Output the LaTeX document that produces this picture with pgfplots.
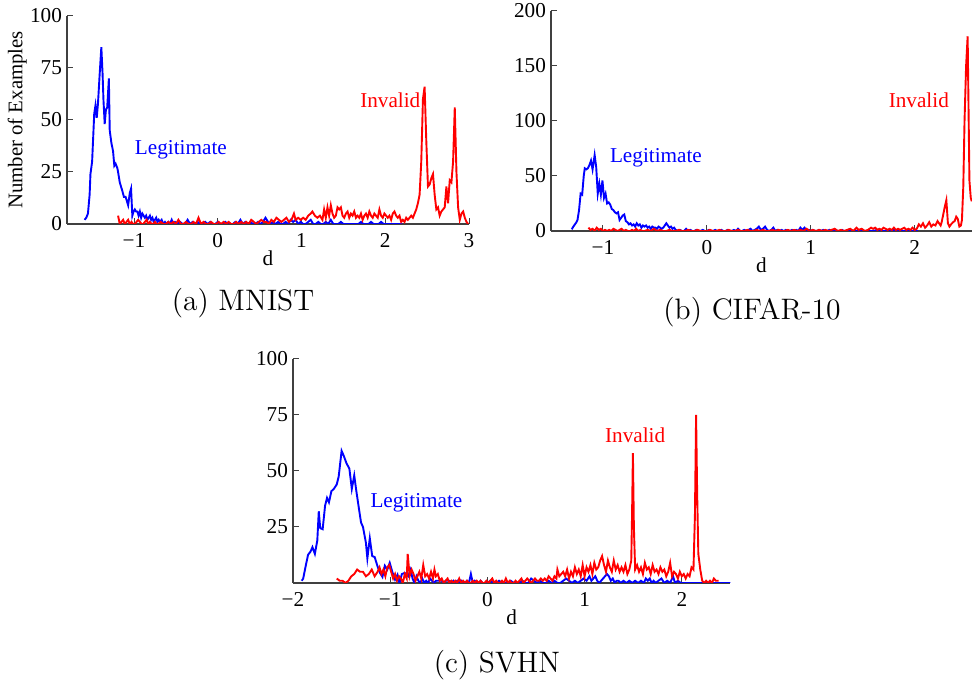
\documentclass[border=0pt]{standalone}
\usepackage{fontspec}
\usepackage{pgfplots}
\pgfplotsset{compat=1.18}
\newfontfamily\plotfont{Liberation Serif}

\pgfplotsset{
  panel/.style={
    scale only axis,
    axis x line*=bottom, axis y line*=left,
    axis line style={-, black!75, line width=0.6pt},
    tick align=inside, major tick length=3pt,
    tick style={black!75, line width=0.5pt},
    ticklabel style={font=\plotfont\fontsize{10.6}{12}\selectfont},
    xticklabel style={yshift=-1.3pt},
    yticklabel style={xshift=1pt},
    xlabel={d},
    every axis x label/.style={at={(axis description cs:0.5,0)}, anchor=center, yshift=-17pt,
      font=\plotfont\fontsize{10.6}{12}\selectfont},
    every axis y label/.style={rotate=90, anchor=center,
      font=\plotfont\fontsize{10.4}{12}\selectfont},
  },
  legit/.style={blue, line width=0.95pt},
  inval/.style={red, line width=0.95pt},
}
\newcommand\lbl{\plotfont\fontsize{10.6}{12}\selectfont}

\begin{document}
\begin{tikzpicture}[x=1pt,y=1pt]
\useasboundingbox (0,0) rectangle (486.5,341.5);

% (a) MNIST
\begin{axis}[panel, at={(33.5pt,229.5pt)}, anchor=south west,
  width=201pt, height=104pt, xmin=-1.8, xmax=3, ymin=0, ymax=100,
  xtick={-1,0,1,2,3}, xticklabels={−1,0,1,2,3},
  ytick={0,25,50,75,100}, yticklabels={0,25,50,75,100},
  ylabel={Number of Examples},
  every axis y label/.append style={at={(axis description cs:-0.124,0.5)}}]
\addplot[legit] coordinates {
(-1.59,2)(-1.57,3)(-1.55,5)(-1.53,14)(-1.52,24)(-1.50,30)(-1.475,53)(-1.46,57)(-1.445,51)
(-1.43,58)(-1.41,72)(-1.39,85)(-1.375,72)(-1.365,60)(-1.35,48)(-1.335,55)(-1.32,56)(-1.30,70)
(-1.29,45)(-1.27,39)(-1.25,35)(-1.235,28)(-1.22,29)(-1.20,27)(-1.19,25)(-1.17,20)(-1.155,18)
(-1.14,16)(-1.12,13)(-1.10,13)(-1.085,11)(-1.07,9)(-1.05,15)(-1.035,17)(-1.02,4)(-1.005,6)
(-0.99,7)(-0.975,6)(-0.96,6)(-0.945,4)(-0.93,6)(-0.915,3)(-0.90,5)(-0.885,4)(-0.87,3)(-0.855,4)
(-0.84,2)(-0.825,3)(-0.81,4)(-0.795,2)(-0.78,3)(-0.765,1)(-0.75,2)(-0.735,3)(-0.72,1)(-0.705,2)
(-0.69,1)(-0.67,2)(-0.65,0)(-0.63,1)(-0.61,0)(-0.59,1)(-0.57,0)(-0.55,2)(-0.53,0)(-0.51,1)
(-0.48,0)(-0.45,1)(-0.42,0)(-0.39,0)(-0.36,2)(-0.33,0)(-0.30,1)(-0.27,0)(-0.24,1)(-0.21,0)
(-0.18,0)(-0.15,1)(-0.12,0)(-0.09,1)(-0.06,0)(-0.03,0)(0.00,1)(0.03,0)(0.06,0)(0.09,1)
(0.12,0)(0.15,0)(0.18,0)(0.21,1)(0.24,0)(0.27,2)(0.30,0)(0.33,1)(0.36,0)(0.39,1)(0.42,0)
(0.45,0)(0.48,1)(0.51,0)(0.54,1)(0.57,3)(0.60,1)(0.63,0)(0.66,1)(0.69,0)(0.72,1)(0.75,0)
(0.78,0)(0.81,1)(0.84,0)(0.87,2)(0.90,1)(0.93,2)(0.96,0)(0.99,1)(1.02,0)(1.05,0)(1.08,1)
(1.11,2)(1.14,0)(1.17,0)(1.20,1)(1.23,0)(1.26,0)(1.29,1)(1.32,0)(1.35,2)(1.38,0)(1.41,0)
(1.44,0)(1.47,1)(1.50,0)(1.53,0)(1.56,0)(1.59,0)(1.62,0)(1.65,0)(1.68,0)(1.71,1)(1.74,0)
(1.77,0)(1.80,0)(1.83,1)(1.86,0)(1.89,0)(1.92,0)(1.95,1)(1.98,0)(2.01,0)(2.04,0)(2.07,0)
(2.10,0)(2.13,0)(2.16,0)(2.20,0)};
\addplot[inval] coordinates {
(-1.19,4)(-1.17,0)(-1.15,1)(-1.13,2)(-1.11,0)(-1.09,1)(-1.07,2)(-1.05,0)(-1.03,1)(-1.01,0)
(-0.99,0)(-0.97,1)(-0.95,2)(-0.93,1)(-0.91,0)(-0.89,0)(-0.87,1)(-0.85,2)(-0.83,0)(-0.81,1)
(-0.79,0)(-0.77,0)(-0.75,1)(-0.73,0)(-0.71,0)(-0.68,1)(-0.65,0)(-0.62,0)(-0.59,1)(-0.56,0)
(-0.53,1)(-0.50,0)(-0.47,2)(-0.44,0)(-0.41,0)(-0.38,1)(-0.35,0)(-0.32,0)(-0.29,1)(-0.26,0)
(-0.23,3)(-0.20,0)(-0.17,1)(-0.14,0)(-0.11,0)(-0.08,1)(-0.05,0)(-0.02,0)(0.01,1)(0.04,0)
(0.07,1)(0.10,0)(0.13,1)(0.16,0)(0.19,0)(0.22,1)(0.25,0)(0.28,1)(0.31,0)(0.34,1)(0.37,0)
(0.40,2)(0.43,1)(0.46,0)(0.49,1)(0.52,2)(0.55,1)(0.58,1)(0.61,0)(0.64,2)(0.67,1)(0.70,3)
(0.73,2)(0.76,1)(0.79,2)(0.82,3)(0.85,1)(0.88,2)(0.91,5)(0.93,2)(0.96,3)(0.99,2)(1.02,3)
(1.05,2)(1.08,4)(1.11,5)(1.13,6)(1.16,4)(1.19,3)(1.22,4)(1.25,2)(1.27,7)(1.29,3)(1.31,8)
(1.33,4)(1.35,9)(1.37,5)(1.39,3)(1.41,4)(1.43,8)(1.45,7)(1.47,8)(1.49,4)(1.51,3)(1.53,5)
(1.55,6)(1.57,3)(1.59,5)(1.61,4)(1.63,6)(1.65,3)(1.67,4)(1.69,3)(1.71,5)(1.73,2)(1.75,4)
(1.77,5)(1.79,3)(1.81,6)(1.83,4)(1.85,3)(1.87,5)(1.89,4)(1.91,3)(1.93,7)(1.95,4)(1.97,3)
(1.99,5)(2.01,4)(2.03,3)(2.05,4)(2.07,2)(2.09,5)(2.11,6)(2.13,4)(2.15,3)(2.17,4)(2.19,1)
(2.21,2)(2.23,1)(2.25,3)(2.27,2)(2.29,3)(2.31,4)(2.33,3)(2.35,5)(2.37,7)(2.39,10)(2.41,14)
(2.43,30)(2.45,60)(2.47,66)(2.49,40)(2.51,18)(2.53,19)(2.55,22)(2.57,24)(2.59,14)(2.61,7)
(2.63,8)(2.65,4)(2.67,6)(2.69,7)(2.71,8)(2.73,18)(2.75,10)(2.77,21)(2.79,20)(2.81,30)
(2.83,56)(2.85,25)(2.87,8)(2.89,2)(2.91,5)(2.93,6)(2.95,3)(2.97,1)(2.99,0)};
\node[text=blue, font=\lbl] at (axis cs:-0.44,35.6) {Legitimate};
\node[text=red, font=\lbl] at (axis cs:2.06,59.6) {Invalid};
\end{axis}

% (b) CIFAR-10
\begin{axis}[panel, at={(275.5pt,226pt)}, anchor=south west,
  width=210.4pt, height=110pt, xmin=-1.5, xmax=2.55, ymin=0, ymax=200,
  xtick={-1,0,1,2}, xticklabels={−1,0,1,2},
  ytick={0,50,100,150,200}, yticklabels={0,50,100,150,200}]
\addplot[legit] coordinates {
(-1.30,1.5)(-1.285,4)(-1.27,6)(-1.255,8)(-1.245,10)(-1.23,19)(-1.215,34)(-1.20,33)(-1.185,50)
(-1.175,57)(-1.16,56)(-1.145,57)(-1.13,60)(-1.115,64)(-1.10,56)(-1.08,69)(-1.065,58)(-1.05,34)
(-1.035,43)(-1.02,33)(-1.005,46)(-0.99,30)(-0.975,34)(-0.96,25)(-0.945,26)(-0.93,24)(-0.915,20)
(-0.90,19)(-0.885,17)(-0.87,16)(-0.855,17)(-0.84,10)(-0.825,12)(-0.81,14)(-0.795,15)(-0.78,9)
(-0.765,8)(-0.75,6)(-0.735,7)(-0.72,5)(-0.705,6)(-0.69,4)(-0.675,7)(-0.66,5)(-0.645,6)(-0.63,3)
(-0.615,5)(-0.60,4)(-0.585,5)(-0.57,3)(-0.555,4)(-0.54,2)(-0.525,4)(-0.51,3)(-0.495,3)(-0.48,2)
(-0.465,4)(-0.45,3)(-0.435,2)(-0.42,3)(-0.405,5)(-0.39,7)(-0.375,5)(-0.36,3)(-0.345,4)(-0.33,2)
(-0.315,3)(-0.30,1)(-0.28,0)(-0.26,1)(-0.24,0)(-0.22,0)(-0.20,2)(-0.18,0)(-0.16,1)(-0.14,0)
(-0.12,0)(-0.10,1)(-0.08,0)(-0.06,0)(-0.04,1)(-0.02,0)(0.00,0)(0.02,1)(0.04,0)(0.06,0)(0.08,1)
(0.10,0)(0.12,0)(0.14,1)(0.16,0)(0.18,0)(0.20,1)(0.22,0)(0.24,0)(0.26,1)(0.28,0)(0.30,2)
(0.32,0)(0.34,0)(0.36,1)(0.38,0)(0.40,1)(0.42,2)(0.44,0)(0.46,1)(0.48,2)(0.50,4)(0.52,1)
(0.54,2)(0.56,4)(0.58,1)(0.60,0)(0.62,1)(0.64,3)(0.66,0)(0.68,1)(0.70,0)(0.72,1)(0.74,0)
(0.76,1)(0.78,0)(0.80,0)(0.82,1)(0.84,0)(0.86,1)(0.88,0)(0.90,3)(0.92,1)(0.94,3)(0.96,0)
(0.98,1)(1.00,0)(1.02,1)(1.04,0)(1.06,0)(1.08,1)(1.10,0)(1.12,1)(1.14,0)(1.16,0)(1.18,1)
(1.20,0)(1.22,0)(1.24,1)(1.26,0)(1.28,0)(1.30,1)(1.32,0)(1.34,0)(1.36,1)(1.38,0)(1.40,0)
(1.44,0)(1.48,1)(1.52,0)(1.56,0)(1.60,0)(1.64,1)(1.68,0)(1.72,0)(1.76,0)(1.80,1)(1.84,0)
(1.88,0)(1.92,0)(1.96,0)(2.00,0)(2.03,0)};
\addplot[inval] coordinates {
(-1.14,3)(-1.12,1)(-1.10,2)(-1.08,0)(-1.06,3)(-1.04,1)(-1.02,2)(-1.00,0)(-0.98,1)(-0.96,0)
(-0.94,1)(-0.92,0)(-0.90,2)(-0.88,1)(-0.86,0)(-0.84,1)(-0.82,2)(-0.80,0)(-0.78,1)(-0.76,0)
(-0.74,0)(-0.72,1)(-0.70,0)(-0.68,2)(-0.66,0)(-0.64,1)(-0.62,0)(-0.60,0)(-0.57,1)(-0.54,0)
(-0.51,2)(-0.48,0)(-0.45,1)(-0.42,0)(-0.39,0)(-0.36,1)(-0.33,0)(-0.30,0)(-0.27,1)(-0.24,0)
(-0.21,0)(-0.18,1)(-0.15,0)(-0.12,0)(-0.09,1)(-0.06,0)(-0.03,0)(0.00,0)(0.03,1)(0.06,0)
(0.09,0)(0.12,1)(0.15,0)(0.18,0)(0.21,1)(0.24,0)(0.27,0)(0.30,1)(0.33,0)(0.36,0)(0.39,1)
(0.42,0)(0.45,0)(0.48,1)(0.51,0)(0.54,1)(0.57,0)(0.60,0)(0.63,1)(0.66,0)(0.69,1)(0.72,0)
(0.75,0)(0.78,1)(0.81,0)(0.84,1)(0.87,0)(0.90,1)(0.93,0)(0.96,2)(0.99,0)(1.02,1)(1.05,0)
(1.08,1)(1.11,0)(1.14,1)(1.17,0)(1.20,1)(1.23,2)(1.26,0)(1.29,1)(1.32,0)(1.35,1)(1.38,2)
(1.41,0)(1.44,3)(1.46,1)(1.49,2)(1.52,0)(1.55,1)(1.58,3)(1.60,2)(1.62,3)(1.64,1)(1.66,2)
(1.68,1)(1.70,3)(1.72,2)(1.74,1)(1.76,2)(1.78,1)(1.80,3)(1.82,1)(1.84,2)(1.86,1)(1.88,2)
(1.90,3)(1.92,1)(1.94,2)(1.96,1)(1.98,3)(2.00,1)(2.02,2)(2.04,6)(2.06,4)(2.08,7)(2.10,3)
(2.12,5)(2.14,8)(2.16,4)(2.18,6)(2.20,5)(2.22,9)(2.235,7)(2.25,5)(2.26,8)(2.275,15)(2.29,22)
(2.305,28)(2.32,7)(2.335,4)(2.35,6)(2.37,8)(2.385,9)(2.40,13)(2.415,11)(2.43,4)(2.445,5)
(2.455,10)(2.468,40)(2.48,100)(2.495,150)(2.51,177)(2.52,100)(2.527,46)(2.54,30)(2.55,27)};
\node[text=blue, font=\lbl] at (axis cs:-0.49,67) {Legitimate};
\node[text=red, font=\lbl] at (axis cs:2.04,119) {Invalid};
\end{axis}

% (c) SVHN
\begin{axis}[panel, at={(146.5pt,50pt)}, anchor=south west,
  width=218.7pt, height=112pt, xmin=-2, xmax=2.5, ymin=0, ymax=100,
  xtick={-2,-1,0,1,2}, xticklabels={−2,−1,0,1,2},
  ytick={25,50,75,100}, yticklabels={25,50,75,100}]
\addplot[legit] coordinates {
(-1.91,1)(-1.895,2)(-1.87,7.5)(-1.845,12.6)(-1.82,14)(-1.80,16)(-1.775,13)(-1.75,19)(-1.735,32)
(-1.72,24.5)(-1.695,24)(-1.67,34.5)(-1.65,38)(-1.63,36)(-1.605,41)(-1.58,42)(-1.55,44)(-1.53,47.5)
(-1.50,59)(-1.48,57)(-1.45,53.5)(-1.42,51)(-1.395,42)(-1.37,48)(-1.35,41.5)(-1.32,32.7)(-1.30,27)
(-1.28,25)(-1.25,18)(-1.235,11)(-1.21,20)(-1.185,12)(-1.16,11.6)(-1.13,7.4)(-1.105,4.5)(-1.08,2.7)
(-1.055,7.7)(-1.03,6)(-1.005,9)(-0.975,4.5)(-0.95,1.5)(-0.925,3.7)(-0.905,0)(-0.88,4)(-0.85,4.5)
(-0.815,3)(-0.79,6)(-0.77,2)(-0.75,0)(-0.73,3)(-0.71,1)(-0.69,0)(-0.67,2)(-0.65,0)(-0.63,1)
(-0.61,0)(-0.59,2)(-0.57,1)(-0.55,0)(-0.53,1)(-0.51,1)(-0.49,1)(-0.47,1)(-0.45,0)(-0.43,1)
(-0.41,1)(-0.39,1)(-0.37,0)(-0.35,1)(-0.33,0)(-0.31,1)(-0.29,0)(-0.27,1)(-0.25,0)(-0.23,0)
(-0.21,1)(-0.19,0)(-0.17,4)(-0.15,0)(-0.13,1)(-0.11,0)(-0.09,0)(-0.07,1)(-0.05,0)(-0.03,0)
(0.00,0)(0.03,1)(0.06,0)(0.09,0)(0.12,1)(0.15,0)(0.18,0)(0.21,0)(0.24,1)(0.27,0)(0.30,0)
(0.33,0)(0.36,1)(0.39,0)(0.42,0)(0.45,2)(0.48,1)(0.51,0)(0.54,1)(0.57,0)(0.60,0)(0.63,1)
(0.66,0)(0.69,1)(0.72,0)(0.75,0)(0.78,1)(0.81,2)(0.84,1)(0.87,0)(0.90,1)(0.93,0)(0.96,1)
(0.99,2)(1.02,1)(1.05,3)(1.07,1)(1.09,2)(1.11,3)(1.13,1)(1.15,0)(1.17,1)(1.19,2)(1.21,3)
(1.23,4)(1.25,3)(1.27,1)(1.29,2)(1.31,0)(1.33,1)(1.35,1)(1.37,0)(1.40,1)(1.43,0)(1.46,1)
(1.49,0)(1.52,1)(1.55,0)(1.58,1)(1.61,0)(1.63,2)(1.65,1)(1.67,2)(1.69,0)(1.71,1)(1.73,0)
(1.76,1)(1.79,2)(1.82,0)(1.85,1)(1.88,0)(1.91,3)(1.93,0)(1.96,1)(1.99,0)(2.05,0)(2.2,0)
(2.35,0)(2.5,0)};
\addplot[inval] coordinates {
(-1.55,2)(-1.52,1)(-1.49,1)(-1.46,0)(-1.43,1)(-1.40,3)(-1.37,4)(-1.34,6)(-1.31,5)(-1.28,5)
(-1.25,3)(-1.22,4)(-1.19,6)(-1.16,3)(-1.13,5)(-1.11,7)(-1.09,4)(-1.07,6)(-1.05,3)(-1.03,7)
(-1.01,8)(-0.99,5)(-0.97,2)(-0.95,4)(-0.93,1)(-0.91,3)(-0.89,2)(-0.87,0)(-0.85,4)(-0.83,2)
(-0.82,13)(-0.80,3)(-0.78,6)(-0.76,4)(-0.74,1)(-0.72,3)(-0.70,5)(-0.68,2)(-0.66,8)(-0.64,3)
(-0.62,4)(-0.60,2)(-0.58,5)(-0.56,2)(-0.545,6)(-0.53,3)(-0.51,4)(-0.49,1)(-0.47,2)(-0.45,0)
(-0.43,1)(-0.41,2)(-0.39,0)(-0.37,1)(-0.35,0)(-0.33,1)(-0.31,0)(-0.29,2)(-0.27,0)(-0.25,1)
(-0.23,0)(-0.21,1)(-0.19,0)(-0.17,0)(-0.15,1)(-0.13,0)(-0.11,1)(-0.09,0)(-0.07,1)(-0.05,0)
(-0.03,0)(-0.01,1)(0.01,0)(0.03,1)(0.05,2)(0.07,0)(0.09,1)(0.11,0)(0.13,0)(0.15,1)(0.17,0)
(0.19,2)(0.21,0)(0.23,1)(0.25,0)(0.27,0)(0.29,1)(0.31,0)(0.33,1)(0.35,2)(0.37,0)(0.39,1)
(0.41,2)(0.43,1)(0.45,0)(0.47,1)(0.49,2)(0.51,1)(0.53,1)(0.55,2)(0.57,1)(0.59,2)(0.61,1)
(0.63,3)(0.65,2)(0.67,1)(0.69,3)(0.71,2)(0.72,6)(0.74,3)(0.76,4)(0.78,5)(0.80,3)(0.82,6)
(0.84,2)(0.86,5)(0.88,3)(0.90,7)(0.92,4)(0.94,6)(0.96,3)(0.98,8)(1.00,3)(1.02,7)(1.04,5)
(1.06,8)(1.08,4)(1.10,9)(1.12,6)(1.14,7)(1.16,10)(1.18,12)(1.20,8)(1.22,5)(1.24,10)(1.26,7)
(1.28,5)(1.30,10)(1.32,6)(1.34,8)(1.36,5)(1.38,7)(1.40,5)(1.42,8)(1.44,4)(1.46,6)(1.48,10)
(1.488,30)(1.497,58)(1.507,25)(1.52,6)(1.54,8)(1.56,5)(1.58,7)(1.60,4)(1.62,9)(1.64,6)
(1.66,7)(1.68,4)(1.70,8)(1.72,5)(1.74,6)(1.76,4)(1.78,7)(1.80,5)(1.82,6)(1.84,3)(1.86,5)
(1.88,9)(1.90,3)(1.92,5)(1.94,4)(1.96,2)(1.98,5)(2.00,3)(2.02,4)(2.04,2)(2.06,4)(2.08,3)
(2.10,7)(2.12,6)(2.135,30)(2.147,75)(2.158,40)(2.17,13)(2.19,6)(2.21,1)(2.23,0)(2.25,1)
(2.27,0)(2.29,1)(2.31,0)(2.33,2)(2.35,1)(2.38,1)};
\node[text=blue, font=\lbl] at (axis cs:-0.73,35.7) {Legitimate};
\node[text=red, font=\lbl] at (axis cs:1.52,66) {Invalid};
\end{axis}

\node[font=\fontsize{14.8}{17}\selectfont] at (121.5,190) {(a) MNIST};
\node[font=\fontsize{14.8}{17}\selectfont] at (376,185.5) {(b) CIFAR-10};
\node[font=\fontsize{14.8}{17}\selectfont] at (248.5,9) {(c) SVHN};
\end{tikzpicture}
\end{document}
